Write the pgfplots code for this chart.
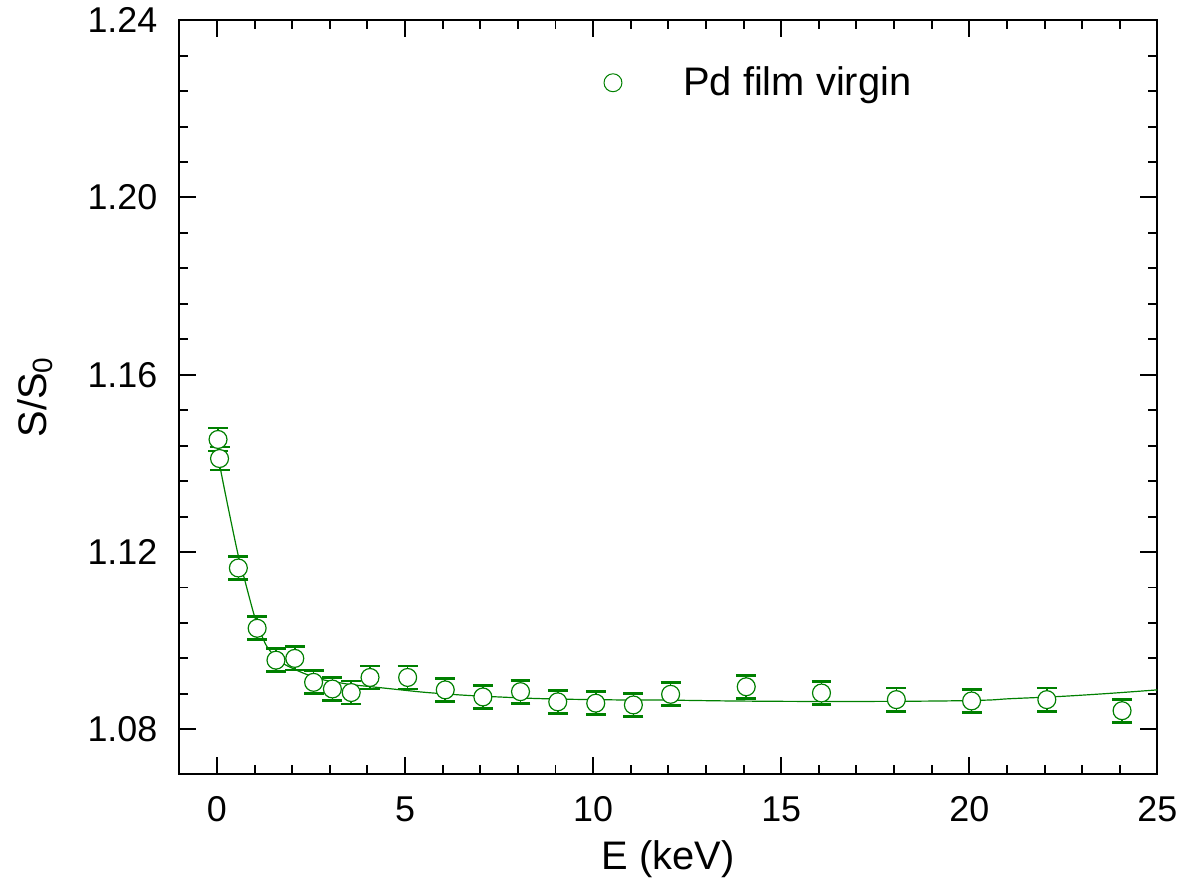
\documentclass[border=0pt]{standalone}
\usepackage{fontspec}
\setmainfont{Liberation Sans}
\usepackage{pgfplots}
\pgfplotsset{compat=1.18}
\definecolor{gcol}{RGB}{0,128,0}
\begin{document}
\begin{tikzpicture}
\path (0,0) rectangle (592pt,447pt);
\begin{axis}[
 at={(90pt,58.65pt)}, anchor=south west,
 scale only axis, width=491pt, height=378.2pt,
 xmin=-1, xmax=25, ymin=1.07, ymax=1.24,
 xtick={0,5,...,25}, minor x tick num=4,
 ytick={1.08,1.12,1.16,1.20,1.24}, minor y tick num=4,
 yticklabel style={/pgf/number format/fixed, /pgf/number format/fixed zerofill, /pgf/number format/precision=2, xshift=-7.5pt},
 tick align=inside, major tick length=8.5pt, minor tick length=4.5pt,
 axis line style={line width=1pt}, every tick/.style={black, line width=1pt},
 tick label style={font=\fontsize{18}{20}\selectfont},
 /pgf/number format/assume math mode=true,
 xticklabel style={yshift=-8pt},
 xlabel={E (keV)}, ylabel={S/S\textsubscript{0}},
 label style={font=\fontsize{20}{24}\selectfont},
 xlabel style={at={(axis description cs:0.5,-0.1129)}, anchor=center},
 ylabel style={at={(axis description cs:-0.1477,0.5)}, anchor=center},
 legend style={draw=none, fill=none, inner xsep=0pt, inner ysep=0pt,
   at={(rel axis cs:0.4333,0.917)}, anchor=west, font=\fontsize{20}{24}\selectfont},
 legend cell align=left,
]
\addplot[gcol, line width=0.6pt, smooth, forget plot] coordinates {
(0.03,1.1435) (0.07,1.1405) (0.1,1.1385) (0.3,1.1300) (0.56,1.1195) (0.73,1.1140)
(1.0,1.1055) (1.2,1.1010) (1.35,1.0984) (1.6,1.0960) (1.79,1.0947) (2.0,1.0938)
(2.32,1.0926) (2.6,1.0918) (2.86,1.0911) (3.2,1.0906) (3.56,1.0901) (4.0,1.0897)
(4.45,1.0893) (5.0,1.0888) (5.59,1.0883) (6.57,1.0877) (7.5,1.0873) (8.33,1.0870)
(9.2,1.0868) (10.1,1.0867) (11.0,1.0866) (11.87,1.0866) (13.63,1.0864) (15.4,1.0863)
(17.5,1.0863) (19.3,1.0864) (20.5,1.0866) (21.06,1.0869) (22.38,1.0874) (23.71,1.0881)
(25,1.0889)};
\addplot[gcol, only marks, mark=*, mark size=4.5pt,
  mark options={fill=white, draw=gcol, line width=0.6pt},
  legend image code/.code={\path[draw=none, fill=none] (0pt,0pt) -- (38pt,0pt);
    \path[draw=gcol, line width=0.5pt] (4.7pt,0pt) circle[radius=4.5pt];},
  error bars/.cd, y dir=both, y explicit,
  error bar style={gcol, line width=0.8pt},
  error mark options={rotate=90, mark size=5pt, line width=1.4pt, gcol}]
 table[x=x, y=y, y error=e] {
x y e
0.03 1.1454 0.0026
0.07 1.1411 0.0026
0.57 1.1164 0.0026
1.07 1.1028 0.0026
1.57 1.0956 0.0026
2.07 1.0960 0.0026
2.57 1.0906 0.0026
3.07 1.0891 0.0026
3.57 1.0883 0.0026
4.07 1.0917 0.0026
5.07 1.0917 0.0026
6.07 1.0889 0.0026
7.07 1.0873 0.0026
8.07 1.0885 0.0026
9.06 1.0862 0.0026
10.07 1.0859 0.0026
11.07 1.0855 0.0026
12.06 1.0879 0.0026
14.07 1.0896 0.0026
16.07 1.0882 0.0026
18.06 1.0867 0.0026
20.06 1.0864 0.0026
22.06 1.0867 0.0026
24.06 1.0842 0.0026
};
\addlegendentry{Pd film virgin}
\end{axis}
\end{tikzpicture}
\end{document}
